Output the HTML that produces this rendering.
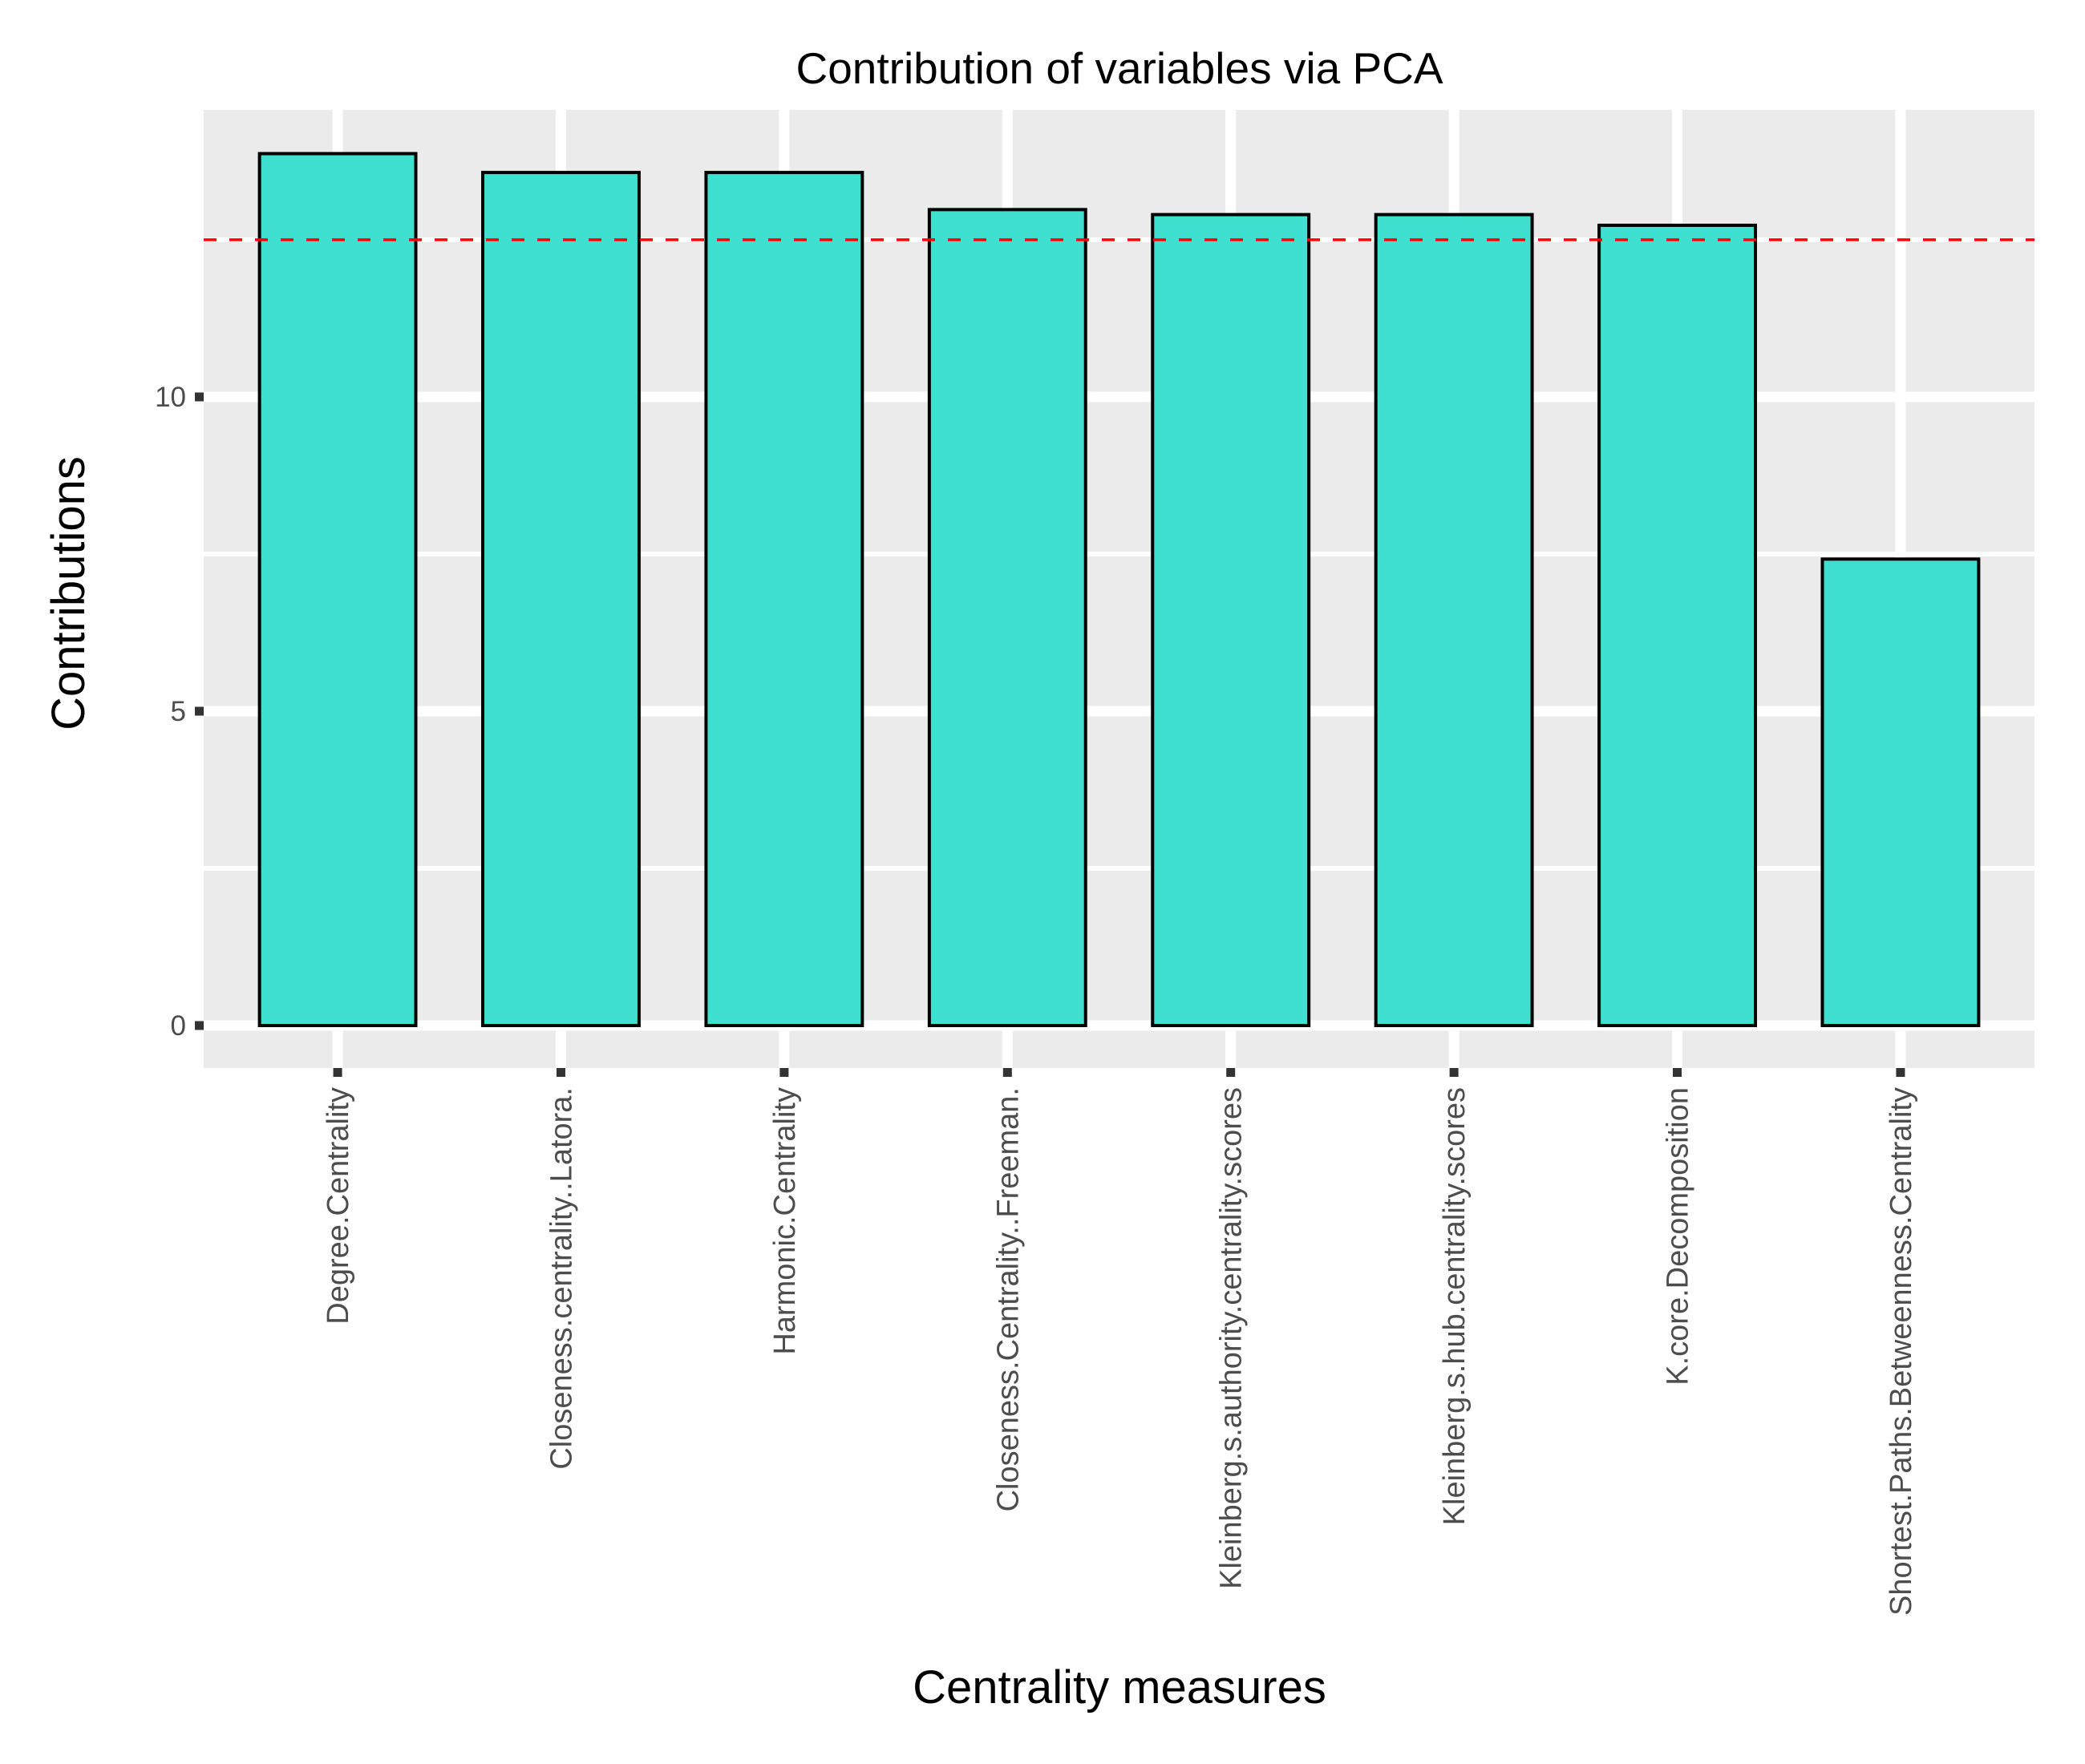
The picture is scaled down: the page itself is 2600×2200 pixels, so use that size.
<!DOCTYPE html>
<html><head><meta charset="utf-8"><style>
html,body{margin:0;padding:0;background:#fff;}
svg{display:block;font-family:"Liberation Sans",Arial,sans-serif;}
</style></head><body>
<svg id="chart" width="2600" height="2200" viewBox="0 0 2600 2200">
<rect x="0" y="0" width="2600" height="2200" fill="#fff"/>
<text x="1396" y="104" text-anchor="middle" font-size="55" fill="#000">Contribution of variables via PCA</text>
<text x="0" y="0" transform="translate(105,740) rotate(-90)" text-anchor="middle" font-size="58" fill="#000">Contributions</text>
<text x="1396" y="2124" text-anchor="middle" font-size="58" fill="#000">Centrality measures</text>
<g id="plot"></g>
</svg>
<script>
const categories = ["Degree.Centrality","Closeness.centrality..Latora.","Harmonic.Centrality","Closeness.Centrality..Freeman.","Kleinberg.s.authority.centrality.scores","Kleinberg.s.hub.centrality.scores","K.core.Decomposition","Shortest.Paths.Betweenness.Centrality"];
const values = [13.87, 13.57, 13.57, 12.98, 12.9, 12.9, 12.73, 7.42];
const yTicks = [0, 5, 10];
const yMinor = [2.5, 7.5, 12.5];
const refLine = 12.5;

const NS = "http://www.w3.org/2000/svg";
const plot = document.getElementById('plot');
const L = 254, R = 2537, T = 137, B = 1332;
const zeroY = 1279, perUnit = 78.4;
const step = (R - L) / 8.2;
function y(v){ return zeroY - v * perUnit; }
function x(i){ return L + step * (0.6 + i); }
function mk(tag, attrs){ const e = document.createElementNS(NS, tag); for (const k in attrs) e.setAttribute(k, attrs[k]); plot.appendChild(e); return e; }

let e = mk('rect', {x:L, y:T, width:R-L, height:B-T, fill:'#ebebeb'});


yMinor.forEach(v => {
  const g = mk('line', {x1:L, x2:R, y1:y(v), y2:y(v), stroke:'#fff', 'stroke-width':6});
  
  
});
yTicks.forEach(v => {
  const g = mk('line', {x1:L, x2:R, y1:y(v), y2:y(v), stroke:'#fff', 'stroke-width':13});
  
  
  const t = mk('line', {x1:L-11, x2:L, y1:y(v), y2:y(v), stroke:'#333', 'stroke-width':11});
  
  
  const lb = mk('text', {x:L-22, y:y(v)+12, 'text-anchor':'end', 'font-size':35, fill:'#4d4d4d'});
  lb.textContent = v;
  
  
});
categories.forEach((c, i) => {
  const g = mk('line', {x1:x(i), x2:x(i), y1:T, y2:B, stroke:'#fff', 'stroke-width':13});
  
  
});
const bw = step * 0.7;
categories.forEach((c, i) => {
  const b = mk('rect', {x:x(i)-bw/2, y:y(values[i]), width:bw, height:y(0)-y(values[i]), fill:'#40e0d0', stroke:'#000', 'stroke-width':4});
  
  
  const t = mk('line', {x1:x(i), x2:x(i), y1:B, y2:B+11, stroke:'#333', 'stroke-width':11});
  
  
  const lb = mk('text', {x:0, y:0, transform:'translate(' + (x(i)+13) + ',' + (B+24) + ') rotate(-90)', 'text-anchor':'end', 'font-size':38, fill:'#4d4d4d'});
  lb.textContent = c;
  
  
});
const rl = mk('line', {x1:L, x2:R, y1:y(refLine), y2:y(refLine), stroke:'#ff0000', 'stroke-width':3.5, 'stroke-dasharray':'16 16'});


</script>
</body></html>
